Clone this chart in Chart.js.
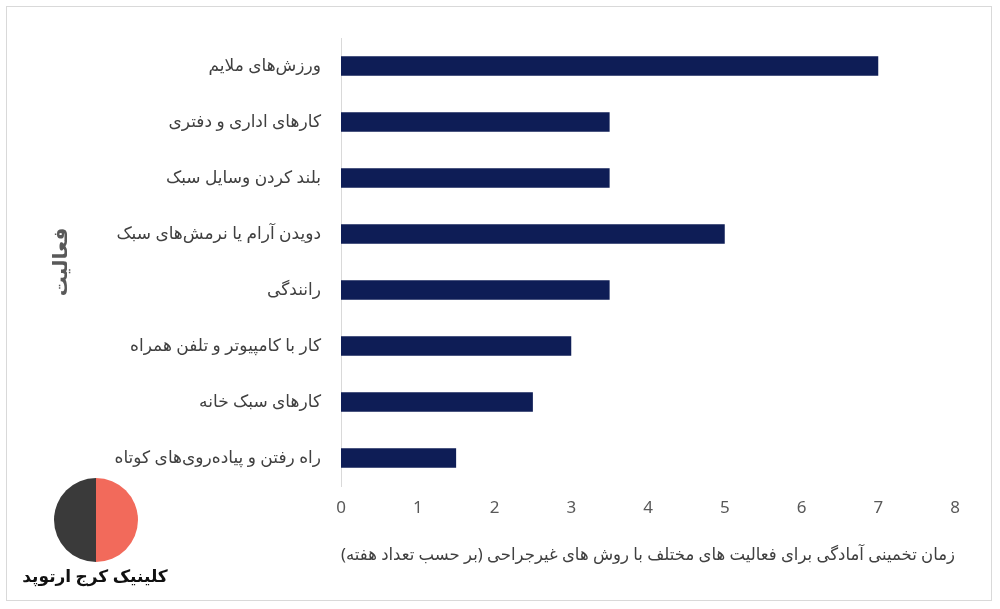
<!DOCTYPE html>
<html><head><meta charset="utf-8">
<script src="https://cdn.jsdelivr.net/npm/chart.js@4"></script>
<style>
html,body{margin:0;padding:0;background:#fff;}
#wrap{position:relative;width:1000px;height:609px;}
#frame{position:absolute;left:6px;top:6px;width:986px;height:595px;border:1px solid #d9d9d9;box-sizing:border-box;}
#logo{position:absolute;left:54px;top:478px;width:84px;height:84px;border-radius:50%;background:linear-gradient(90deg,#3a3a3a 50%,#f26a5b 50%);}
#logotext{position:absolute;left:0px;top:564px;width:190px;text-align:center;font:bold 17px "Noto Sans","DejaVu Sans";color:#111;direction:rtl;white-space:nowrap;}
</style></head>
<body><div id="wrap"><canvas id="c" width="1000" height="609"></canvas><div id="frame"></div><div id="logo"></div><div id="logotext">کلینیک کرج ارتوپد</div></div>
<script>
const categories=["ورزش‌های ملایم","کارهای اداری و دفتری","بلند کردن وسایل سبک","دویدن آرام یا نرمش‌های سبک","رانندگی","کار با کامپیوتر و تلفن همراه","کارهای سبک خانه","راه رفتن و پیاده‌روی‌های کوتاه"];
const values=[7,3.5,3.5,5,3.5,3,2.5,1.5];
const xTitle="زمان تخمینی آمادگی برای فعالیت های مختلف با روش های غیرجراحی (بر حسب تعداد هفته)";
const yTitle="فعالیت";
const font="'Noto Sans','DejaVu Sans',sans-serif";
new Chart(document.getElementById('c'),{
type:'bar',
data:{labels:categories,datasets:[{data:values,backgroundColor:'#0e1d56',categoryPercentage:0.6,barPercentage:0.58}]},
options:{indexAxis:'y',responsive:false,animation:false,
layout:{padding:{left:45,right:45,top:38,bottom:40}},
plugins:{legend:{display:false},tooltip:{enabled:false}},
scales:{
x:{min:0,max:8,ticks:{stepSize:1,color:'#595959',font:{family:font,size:17},padding:12},
grid:{display:false,drawTicks:false},border:{display:false},
title:{display:true,text:xTitle,color:'#404040',font:{family:font,size:17},padding:{top:8}},
afterFit(s){s.height=83;}},
y:{ticks:{color:'#404040',font:{family:font,size:17},padding:20},
grid:{display:false,drawTicks:false},border:{color:'#d9d9d9'},
title:{display:true,text:yTitle,color:'#595959',font:{family:font,size:20,weight:'bold'}},
afterFit(s){s.width=296;}}
}}});
</script></body></html>
